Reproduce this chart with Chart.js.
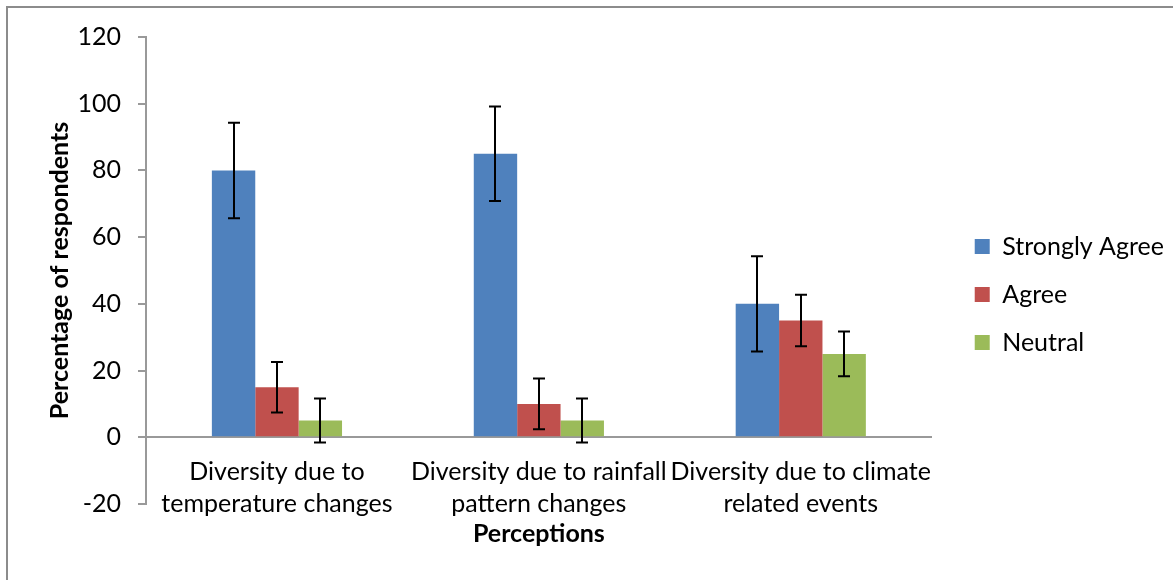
<!DOCTYPE html>
<html>
<head>
<meta charset="utf-8">
<script src="https://cdn.jsdelivr.net/npm/chart.js@4.4.1/dist/chart.umd.min.js"></script>
<style>
html,body{margin:0;padding:0;background:#fff;}
#wrap{position:relative;width:1173px;height:580px;overflow:hidden;}
#frame{position:absolute;left:6px;top:6px;width:1180px;height:600px;border:2px solid #8c8c8c;box-sizing:border-box;}
canvas{position:absolute;left:0;top:0;}
</style>
</head>
<body>
<div id="wrap">
  <div id="frame"></div>
  <canvas id="chart" width="1173" height="580"></canvas>
</div>
<script>
// Chart data
const categories = [
  ['Diversity due to', 'temperature changes'],
  ['Diversity due to rainfall', 'pattern changes'],
  ['Diversity due to climate', 'related events']
];
const stronglyAgree = [80, 85, 40];
const agree = [15, 10, 35];
const neutral = [5, 5, 25];
// error bar half-lengths
const stronglyAgreeErr = [14.3, 14.2, 14.3];
const agreeErr = [7.6, 7.6, 7.7];
const neutralErr = [6.6, 6.6, 6.7];
// y axis
const yMin = -20, yMax = 120, yStep = 20;

const FONT = 'Lato, "Open Sans", sans-serif';
Chart.defaults.font.family = FONT;
Chart.defaults.font.size = 25;
Chart.defaults.color = '#000';

// Error bars drawn from the y scale
const errorBars = {
  id: 'errorBars',
  afterDatasetsDraw(chart){
    const ctx = chart.ctx;
    const y = chart.scales.y;
    ctx.save();
    ctx.strokeStyle = '#000';
    ctx.lineWidth = 2;
    chart.data.datasets.forEach((ds, i) => {
      const meta = chart.getDatasetMeta(i);
      meta.data.forEach((bar, j) => {
        const v = ds.data[j], e = ds.errors[j];
        const top = y.getPixelForValue(v + e);
        const bot = y.getPixelForValue(v - e);
        const x = Math.round(bar.x);
        ctx.beginPath();
        ctx.moveTo(x, top); ctx.lineTo(x, bot);
        ctx.moveTo(x - 6, top); ctx.lineTo(x + 6, top);
        ctx.moveTo(x - 6, bot); ctx.lineTo(x + 6, bot);
        ctx.stroke();
      });
    });
    ctx.restore();
  }
};

new Chart(document.getElementById('chart'), {
  type: 'bar',
  data: {
    labels: categories,
    datasets: [
      {label: 'Strongly Agree', data: stronglyAgree, errors: stronglyAgreeErr, backgroundColor: '#4F81BD'},
      {label: 'Agree', data: agree, errors: agreeErr, backgroundColor: '#C0504D'},
      {label: 'Neutral', data: neutral, errors: neutralErr, backgroundColor: '#9BBB59'}
    ]
  },
  options: {
    responsive: false,
    animation: false,
    layout: {padding: {left: 0, top: 37, right: -1, bottom: 76}},
    datasets: {bar: {barPercentage: 1, categoryPercentage: 0.497}},
    plugins: {
      tooltip: {enabled: false},
      legend: {
        position: 'right',
        maxWidth: 320,
        labels: {boxWidth: 15, boxHeight: 15, padding: 23, font: {size: 25}, color: '#000'},
        title: {display: true, text: '', font: {size: 1}, padding: {top: 47, bottom: 0}}
      }
    },
    scales: {
      x: {
        position: {y: 0},
        grid: {display: false},
        border: {display: true, color: '#999', width: 2},
        ticks: {padding: 11, maxRotation: 0, autoSkip: false, font: {size: 25, lineHeight: 1.26}},
        title: {display: true, text: 'Perceptions', font: {size: 25, weight: 'bold'}, padding: {top: -11, bottom: 0}}
      },
      y: {
        min: yMin, max: yMax,
        ticks: {stepSize: yStep, padding: 17, font: {size: 25}},
        grid: {display: true, drawOnChartArea: false, drawTicks: true, tickLength: 8, color: '#999', lineWidth: 2},
        border: {display: true, color: '#999', width: 2},
        title: {display: true, text: 'Percentage of respondents', font: {size: 25, weight: 'bold'}, padding: {top: 45, bottom: 0}},
        afterFit(s){ s.width = 146; }
      },
      pad: {
        position: 'right', display: true,
        grid: {display: false}, border: {display: false}, ticks: {display: false},
        afterFit(s){ s.width = 20; }
      }
    }
  },
  plugins: [errorBars]
});
</script>
</body>
</html>
